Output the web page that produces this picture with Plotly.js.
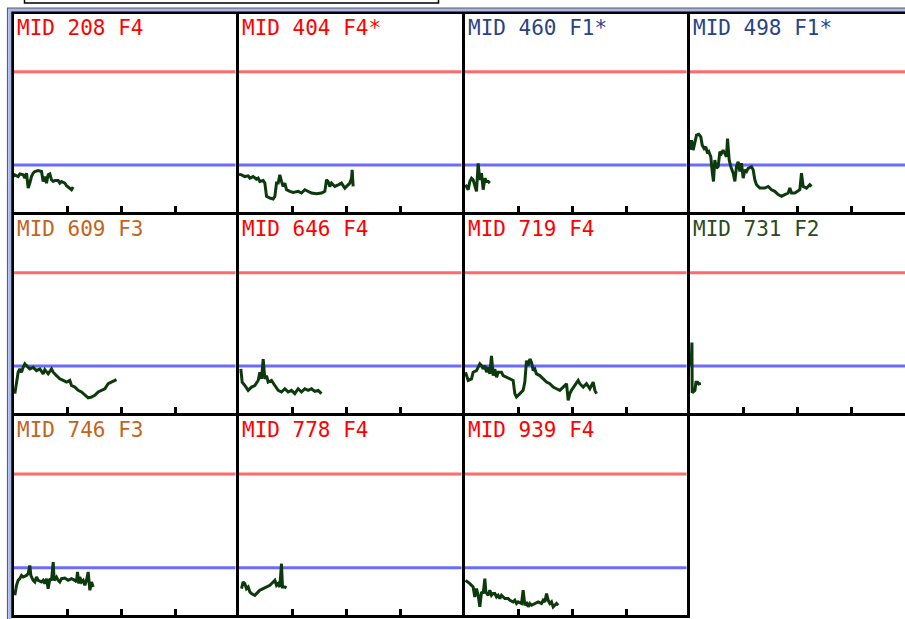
<!DOCTYPE html>
<html><head><meta charset="utf-8">
<script src="https://cdn.plot.ly/plotly-3.0.1.min.js"></script>
<style>html,body{margin:0;padding:0;background:#fff;overflow:hidden}#chart{width:905px;height:619px}</style>
</head><body><div id="chart"></div>
<script>
// ---------- data ----------
const panelLabels = ['MID 208 F4','MID 404 F4*','MID 460 F1*','MID 498 F1*',
                     'MID 609 F3','MID 646 F4','MID 719 F4','MID 731 F2',
                     'MID 746 F3','MID 778 F4','MID 939 F4'];
const labelColors = ['#ff0000','#ff0000','#2a4288','#2a4288',
                     '#c2641c','#ff0000','#ff0000','#2c4a1a',
                     '#c2641c','#ff0000','#ff0000'];
const upperLimit = 1.2;
const lowerLimit = 0.4;
const yMax = 1.7;
const tickValues = [1, 2, 3];

const x208 = [0.00,0.025,0.086,0.117,0.179,0.21,0.241,0.272,0.302,0.333,0.364,0.395,0.457,0.519,0.549,0.58,0.611,0.642,0.673,0.704,0.735,0.765,0.827,0.858,0.889,0.951,0.981,1.043,1.074,1.105];
const y208 = [0.30,0.315,0.30,0.323,0.315,0.286,0.329,0.201,0.244,0.30,0.329,0.343,0.351,0.343,0.258,0.30,0.244,0.315,0.323,0.272,0.258,0.266,0.266,0.244,0.258,0.244,0.221,0.201,0.187,0.21];

const x404 = [0.01,0.056,0.117,0.179,0.21,0.272,0.333,0.364,0.395,0.457,0.488,0.519,0.58,0.642,0.673,0.704,0.735,0.765,0.796,0.827,0.858,0.889,0.951,1.012,1.105,1.167,1.228,1.29,1.352,1.444,1.537,1.599,1.63,1.66,1.691,1.722,1.784,1.846,1.907,1.969,2.031,2.062,2.093,2.105,2.123];
const y404 = [0.32,0.315,0.30,0.306,0.286,0.30,0.277,0.286,0.258,0.266,0.244,0.13,0.116,0.108,0.13,0.244,0.244,0.315,0.258,0.215,0.244,0.187,0.173,0.164,0.173,0.159,0.187,0.173,0.159,0.153,0.159,0.173,0.272,0.258,0.215,0.244,0.215,0.229,0.244,0.201,0.229,0.244,0.286,0.357,0.215];

const x460 = [0.019,0.068,0.099,0.13,0.16,0.191,0.222,0.253,0.284,0.315,0.346,0.377,0.407,0.438,0.469];
const y460 = [0.23,0.187,0.258,0.286,0.272,0.215,0.173,0.414,0.272,0.329,0.187,0.286,0.258,0.258,0.244];

const x498 = [0.01,0.037,0.068,0.099,0.13,0.173,0.21,0.235,0.272,0.302,0.333,0.358,0.395,0.42,0.444,0.469,0.5,0.531,0.562,0.593,0.623,0.654,0.685,0.704,0.735,0.765,0.809,0.84,0.87,0.901,0.932,0.963,0.994,1.025,1.056,1.086,1.148,1.179,1.21,1.241,1.302,1.395,1.457,1.519,1.58,1.642,1.704,1.765,1.827,1.858,1.889,1.951,2.012,2.043,2.074,2.105,2.167,2.228,2.259];
const y498 = [0.53,0.612,0.527,0.584,0.655,0.663,0.64,0.57,0.541,0.555,0.499,0.513,0.47,0.343,0.258,0.442,0.371,0.385,0.513,0.499,0.527,0.499,0.47,0.626,0.442,0.385,0.329,0.258,0.385,0.428,0.343,0.414,0.286,0.357,0.343,0.371,0.385,0.357,0.272,0.23,0.201,0.201,0.215,0.187,0.173,0.145,0.13,0.145,0.159,0.201,0.159,0.159,0.173,0.187,0.329,0.215,0.201,0.23,0.215];

const x609 = [0.025,0.056,0.086,0.117,0.148,0.179,0.21,0.241,0.302,0.364,0.426,0.488,0.549,0.58,0.642,0.704,0.735,0.796,0.858,0.92,0.981,1.043,1.074,1.136,1.198,1.259,1.321,1.383,1.444,1.506,1.568,1.63,1.691,1.753,1.815,1.877,1.907];
const y609 = [0.162,0.261,0.346,0.374,0.346,0.388,0.417,0.402,0.374,0.388,0.36,0.374,0.332,0.368,0.332,0.374,0.346,0.317,0.289,0.275,0.261,0.275,0.232,0.218,0.19,0.176,0.147,0.125,0.133,0.147,0.176,0.19,0.204,0.247,0.261,0.275,0.283];

const x646 = [0.043,0.068,0.117,0.179,0.241,0.302,0.364,0.395,0.426,0.457,0.488,0.519,0.549,0.611,0.673,0.735,0.796,0.858,0.92,0.981,1.043,1.105,1.167,1.228,1.29,1.352,1.414,1.475,1.537];
const y646 = [0.374,0.261,0.232,0.19,0.218,0.232,0.275,0.346,0.289,0.459,0.289,0.317,0.261,0.275,0.232,0.19,0.176,0.204,0.176,0.19,0.162,0.204,0.176,0.204,0.19,0.204,0.181,0.19,0.162];

const x719 = [0.019,0.068,0.13,0.16,0.222,0.253,0.284,0.315,0.346,0.377,0.407,0.438,0.469,0.5,0.531,0.562,0.593,0.623,0.685,0.716,0.778,0.84,0.901,0.932,0.963,1.025,1.086,1.117,1.148,1.179,1.21,1.241,1.272,1.302,1.333,1.395,1.457,1.519,1.58,1.642,1.704,1.765,1.827,1.889,1.92,1.951,1.981,2.043,2.105,2.136,2.198,2.259,2.321,2.383,2.414,2.444];
const y719 = [0.346,0.275,0.289,0.346,0.36,0.388,0.417,0.402,0.374,0.402,0.346,0.388,0.332,0.487,0.317,0.374,0.303,0.346,0.346,0.317,0.303,0.289,0.275,0.162,0.133,0.162,0.19,0.261,0.445,0.402,0.459,0.431,0.36,0.374,0.332,0.317,0.289,0.261,0.247,0.218,0.204,0.19,0.218,0.247,0.105,0.162,0.19,0.232,0.275,0.247,0.218,0.247,0.204,0.261,0.19,0.162];

const x731 = [0.03,0.045,0.05,0.08,0.10,0.12,0.15,0.17,0.21];
const y731 = [0.40,0.60,0.17,0.18,0.19,0.26,0.26,0.245,0.25];

const x746 = [0.025,0.056,0.086,0.117,0.148,0.179,0.241,0.272,0.302,0.321,0.364,0.395,0.426,0.457,0.519,0.549,0.58,0.611,0.642,0.673,0.704,0.735,0.753,0.796,0.827,0.858,0.889,0.951,1.012,1.074,1.136,1.167,1.185,1.21,1.228,1.259,1.29,1.321,1.352,1.383,1.414,1.444,1.475];
const y746 = [0.164,0.249,0.292,0.306,0.334,0.32,0.334,0.349,0.419,0.334,0.292,0.278,0.32,0.292,0.278,0.292,0.264,0.306,0.221,0.306,0.292,0.448,0.292,0.32,0.292,0.278,0.306,0.312,0.292,0.306,0.292,0.278,0.363,0.264,0.32,0.278,0.292,0.249,0.292,0.363,0.207,0.278,0.235];

const x778 = [0.056,0.086,0.117,0.148,0.179,0.21,0.241,0.302,0.364,0.395,0.457,0.519,0.58,0.642,0.673,0.704,0.735,0.765,0.796,0.815,0.858,0.889];
const y778 = [0.221,0.278,0.264,0.221,0.235,0.193,0.179,0.164,0.193,0.207,0.221,0.235,0.249,0.278,0.292,0.249,0.264,0.235,0.434,0.235,0.235,0.227];

const x939 = [0.019,0.068,0.099,0.13,0.16,0.191,0.222,0.253,0.284,0.315,0.346,0.377,0.395,0.438,0.469,0.5,0.531,0.562,0.593,0.623,0.654,0.685,0.716,0.747,0.809,0.84,0.901,0.932,0.963,0.994,1.056,1.086,1.117,1.148,1.179,1.21,1.241,1.302,1.364,1.426,1.457,1.488,1.519,1.549,1.58,1.611,1.642,1.673,1.704,1.735];
const y939 = [0.292,0.278,0.264,0.249,0.235,0.15,0.221,0.164,0.065,0.193,0.179,0.306,0.193,0.164,0.207,0.164,0.179,0.179,0.15,0.164,0.136,0.164,0.15,0.136,0.136,0.122,0.108,0.122,0.094,0.108,0.094,0.207,0.079,0.108,0.065,0.094,0.079,0.094,0.108,0.094,0.122,0.108,0.179,0.122,0.094,0.108,0.065,0.079,0.094,0.079];

const seriesX = [x208,x404,x460,x498,x609,x646,x719,x731,x746,x778,x939];
const seriesY = [y208,y404,y460,y498,y609,y646,y719,y731,y746,y778,y939];

// ---------- layout geometry ----------
const W = 905, H = 619;
const colEdges = [12, 237, 463, 688, 905];
const rowEdges = [12, 213, 414, 616];
const pxPerUnit = 54;
const lw = 3;          // frame line width
const half = lw / 2;

const traces = [];
const layout = {
  width: W, height: H,
  margin: {l:0, r:0, t:0, b:0, pad:0},
  paper_bgcolor: '#ffffff', plot_bgcolor: '#ffffff',
  showlegend: false,
  annotations: [], shapes: []
};

panelLabels.forEach((label, i) => {
  const r = Math.floor(i / 4), c = i % 4;
  const n = i + 1;
  const xa = 'xaxis' + (n === 1 ? '' : n), ya = 'yaxis' + (n === 1 ? '' : n);
  const xr = 'x' + (n === 1 ? '' : n), yr = 'y' + (n === 1 ? '' : n);
  const left = colEdges[c] + half;
  const right = (c === 3) ? W : colEdges[c + 1] - half;
  const top = rowEdges[r] + half;
  const bottom = rowEdges[r + 1] - half;
  const widthPx = right - left;

  layout[xa] = {
    domain: [left / W, right / W], anchor: yr,
    range: [0, widthPx / pxPerUnit], fixedrange: true,
    showgrid: false, zeroline: false, showticklabels: false,
    showline: true, linecolor: '#000', linewidth: lw, mirror: r === 0,
    ticks: 'inside', tickvals: tickValues, ticklen: 6, tickwidth: 2.5, tickcolor: '#000'
  };
  layout[ya] = {
    domain: [1 - bottom / H, 1 - top / H], anchor: xr,
    range: [0, yMax], fixedrange: true,
    showgrid: false, zeroline: false, showticklabels: false, ticks: '',
    showline: true, linecolor: '#000', linewidth: lw, mirror: i === 10
  };

  traces.push({
    type: 'scatter', mode: 'lines', x: seriesX[i], y: seriesY[i],
    xaxis: xr, yaxis: yr,
    line: {color: '#0c3a0c', width: 3}, hoverinfo: 'skip'
  });

  layout.shapes.push({type:'line', xref: xr + ' domain', yref: yr, x0:0, x1:1, y0: upperLimit, y1: upperLimit,
    line:{color:'#ff6b6b', width:3}, layer:'below'});
  layout.shapes.push({type:'line', xref: xr + ' domain', yref: yr, x0:0, x1:1, y0: lowerLimit, y1: lowerLimit,
    line:{color:'#6b6bff', width:3}, layer:'below'});

  layout.annotations.push({
    text: label, xref:'paper', yref:'paper',
    x: (colEdges[c] + 3) / W, y: 1 - (rowEdges[r] + 2) / H,
    xanchor:'left', yanchor:'top', showarrow:false,
    font:{family:'DejaVu Sans Mono, monospace', size:21, color: labelColors[i]}
  });
});

// outer window frame and header box
const px = v => v / W, py = v => 1 - v / H;
layout.shapes.push({type:'line', xref:'paper', yref:'paper', x0:px(7.5), x1:px(7.5), y0:py(8), y1:py(619), line:{color:'#5a5f78', width:1.2}});
layout.shapes.push({type:'line', xref:'paper', yref:'paper', x0:px(7), x1:px(905), y0:py(8.2), y1:py(8.2), line:{color:'#5a5f78', width:1.2}});
layout.shapes.push({type:'line', xref:'paper', yref:'paper', x0:px(9.8), x1:px(9.8), y0:py(9), y1:py(619), line:{color:'#a8b8ec', width:3}});
layout.shapes.push({type:'line', xref:'paper', yref:'paper', x0:px(8.5), x1:px(905), y0:py(10.3), y1:py(10.3), line:{color:'#a8b8ec', width:2.5}});
layout.shapes.push({type:'rect', xref:'paper', yref:'paper', x0:px(24.5), x1:px(438.5), y0:py(3), y1:py(-5), line:{color:'#000', width:1.5}, fillcolor:'#fff'});

Plotly.newPlot('chart', traces, layout, {displayModeBar:false, staticPlot:true});
</script>
</body></html>
